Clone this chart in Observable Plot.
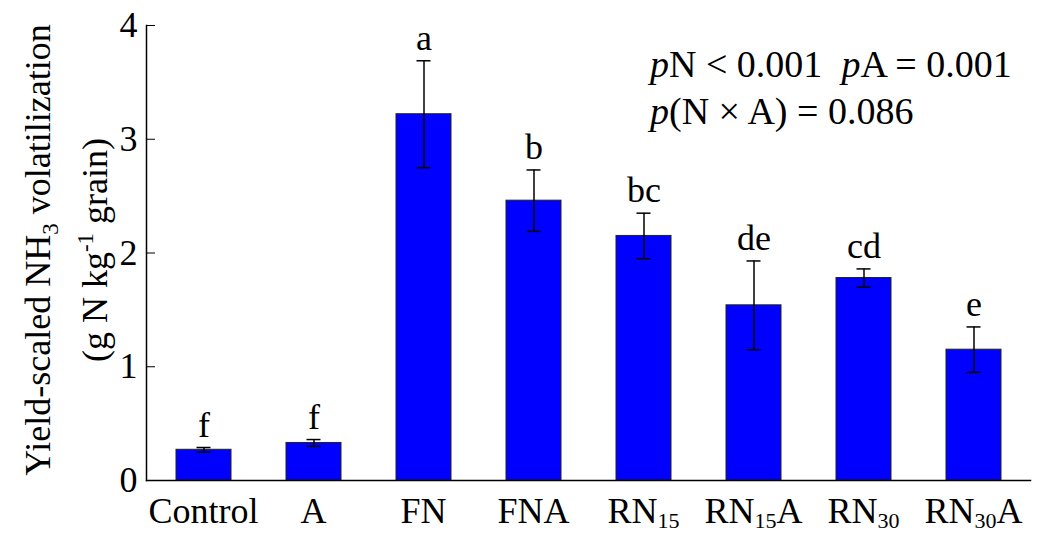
<!DOCTYPE html>
<html><head><meta charset="utf-8">
<script src="https://cdn.jsdelivr.net/npm/d3@7"></script>
<script src="https://cdn.jsdelivr.net/npm/@observablehq/plot@0.6"></script>
<style>body{margin:0;background:#fff}</style>
</head><body><div id="chart"></div>
<script>
const categories = ["Control","A","FN","FNA","RN15","RN15A","RN30","RN30A"];
const labelBase = ["Control","A","FN","FNA","RN","RN","RN","RN"];
const labelSub  = ["","","","","15","15","30","30"];
const labelTail = ["","","","","","A","","A"];
const values = [0.27,0.33,3.22,2.46,2.15,1.54,1.78,1.15];
const errors = [0.02,0.03,0.47,0.27,0.20,0.39,0.08,0.20];
const letters = ["f","f","a","b","bc","de","cd","e"];
const yTicks = [0,1,2,3,4];

const data = categories.map((c,i)=>({c, v:values[i], e:errors[i], l:letters[i]}));
const font = "'Liberation Serif','Times New Roman',serif";
const FS = 36;

const plot = Plot.plot({
  width:1041, height:535,
  marginLeft:146, marginRight:11, marginTop:25, marginBottom:55,
  style:{fontFamily:font, fontSize:FS+"px", background:"#fff", color:"#000"},
  x:{domain:categories, paddingInner:0.5, paddingOuter:0.25, align:0.5, axis:null},
  y:{domain:[0,4], axis:null},
  marks:[
    Plot.barY(data,{x:"c", y:"v", fill:"#0000ff", stroke:"#222", strokeWidth:1}),
    Plot.ruleX(data,{x:"c", y1:d=>d.v-d.e, y2:d=>d.v+d.e, stroke:"#000", strokeWidth:1.5}),
    Plot.tickY(data,{x:"c", y:d=>d.v+d.e, insetLeft:20.5, insetRight:20.5, stroke:"#000", strokeWidth:1.5}),
    Plot.tickY(data,{x:"c", y:d=>d.v-d.e, insetLeft:20.5, insetRight:20.5, stroke:"#000", strokeWidth:1.5}),
    Plot.text(data,{x:"c", y:d=>d.v+d.e, text:"l", dy:-11, lineAnchor:"bottom", fontSize:FS, fill:"#000"}),
    Plot.axisY({ticks:yTicks, tickSize:-9, tickPadding:18, fontSize:FS, tickFormat:d=>d, label:null}),
    Plot.frame({anchor:"left", stroke:"#000", strokeWidth:1.5}),
    Plot.frame({anchor:"bottom", stroke:"#000", strokeWidth:1.5})
  ]
});
document.getElementById("chart").appendChild(plot);

const svg = d3.select(plot);
const x = plot.scale("x");
const bw = x.bandwidth || 0;
// x category labels with subscripts
categories.forEach((c,i)=>{
  const cx = x.apply(c) + bw/2;
  const t = svg.append("text").attr("x", cx).attr("y", 523)
    .attr("text-anchor","middle").style("font-family",font).style("font-size",FS+"px").attr("fill","#000");
  t.append("tspan").text(labelBase[i]);
  if (labelSub[i]) t.append("tspan").attr("dy",5).style("font-size","22px").text(labelSub[i]);
  if (labelTail[i]) t.append("tspan").attr("dy",-5).text(labelTail[i]);
});
// y axis title
const yt = svg.append("g").attr("transform","translate(0,250) rotate(-90)")
  .style("font-family",font).style("font-size",FS+"px").attr("fill","#000");
const l1 = yt.append("text").attr("x",0).attr("y",50).attr("text-anchor","middle");
l1.append("tspan").text("Yield-scaled NH");
l1.append("tspan").attr("dy",8).style("font-size","23px").text("3");
l1.append("tspan").attr("dy",-8).text(" volatilization");
const l2 = yt.append("text").attr("x",0).attr("y",107).attr("text-anchor","middle");
l2.append("tspan").text("(g N kg");
l2.append("tspan").attr("dy",-14).style("font-size","23px").text("-1");
l2.append("tspan").attr("dy",14).text(" grain)");
// p-value annotation
const ann = svg.append("g").style("font-family",font).style("font-size","38px").attr("fill","#000");
const a1 = ann.append("text").attr("x",650).attr("y",77).attr("text-anchor","start").style("white-space","pre");
a1.append("tspan").style("font-style","italic").text("p");
a1.append("tspan").text("N < 0.001  ");
a1.append("tspan").style("font-style","italic").text("p");
a1.append("tspan").text("A = 0.001");
const a2 = ann.append("text").attr("x",650).attr("y",124).attr("text-anchor","start");
a2.append("tspan").style("font-style","italic").text("p");
a2.append("tspan").text("(N \u00d7 A) = 0.086");
</script>
</body></html>
